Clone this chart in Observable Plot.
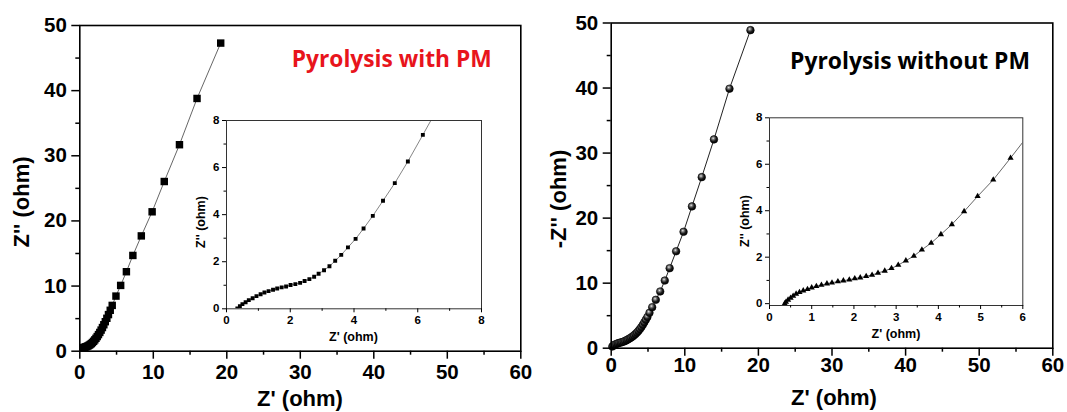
<!DOCTYPE html>
<html><head><meta charset="utf-8">
<script src="https://cdn.jsdelivr.net/npm/d3@7"></script>
<script src="https://cdn.jsdelivr.net/npm/@observablehq/plot@0.6"></script>
<style>
html,body{margin:0;padding:0;background:#fff;}
#wrap{position:relative;width:1067px;height:412px;overflow:hidden;background:#fff;font-family:"Liberation Sans",Arial,sans-serif;}
#wrap > div.layer{position:absolute;left:0;top:0;}
.t{position:absolute;font-weight:bold;white-space:nowrap;transform:translate(-50%,-50%);line-height:1;color:#000;}
.ty{transform:translate(-50%,-50%) rotate(-90deg);}
</style></head><body><div id="wrap"></div>
<script>
// ---------- data ----------
// Left main: "Pyrolysis with PM"
const withPM_Zre = [0.5,0.65,0.8,0.95,1.1,1.25,1.4,1.56,1.72,1.88,2.04,2.2,2.37,2.54,2.72,2.9,3.08,3.27,3.47,3.68,3.9,4.14,4.41,4.92,5.56,6.34,7.22,8.37,9.84,11.49,13.56,15.95,19.17];
const withPM_Zim = [0.55,0.6,0.66,0.72,0.8,0.9,1.02,1.16,1.33,1.52,1.74,1.98,2.25,2.55,2.88,3.24,3.63,4.06,4.53,5.05,5.62,6.28,7.03,8.46,10.1,12.2,14.7,17.7,21.4,26.05,31.7,38.8,47.3];
// Left inset
const withPMInset_Zre = [0.34,0.42,0.50,0.60,0.70,0.82,0.94,1.07,1.19,1.32,1.46,1.59,1.73,1.87,2.01,2.16,2.31,2.45,2.60,2.75,2.89,3.06,3.23,3.41,3.60,3.81,4.05,4.30,4.59,4.91,5.28,5.69,6.16,6.68];
const withPMInset_Zim = [0.02,0.11,0.20,0.28,0.37,0.45,0.54,0.62,0.69,0.75,0.81,0.86,0.91,0.95,1.01,1.05,1.10,1.18,1.26,1.36,1.49,1.64,1.81,2.04,2.29,2.61,2.97,3.41,3.95,4.59,5.34,6.26,7.39,8.65];
// Right main: "Pyrolysis without PM"
const noPM_Zre = [0.15,0.3,0.5,0.7,0.9,1.1,1.3,1.5,1.7,1.9,2.1,2.3,2.5,2.7,2.9,3.1,3.3,3.5,3.7,3.9,4.1,4.3,4.5,4.7,4.92,5.2,5.57,6.06,6.66,7.28,7.94,8.82,9.83,10.97,12.3,13.96,16.07,18.92];
const noPM_Zim = [0.25,0.4,0.55,0.65,0.74,0.82,0.88,0.94,1.02,1.12,1.24,1.36,1.5,1.64,1.8,1.98,2.18,2.4,2.66,2.94,3.25,3.6,3.98,4.38,4.8,5.44,6.3,7.44,8.72,10.4,12.3,14.9,17.9,21.8,26.3,32.1,39.9,48.9];
// Right inset
const noPMInset_Zre = [0.36,0.39,0.44,0.50,0.56,0.63,0.71,0.80,0.90,1.00,1.11,1.23,1.36,1.48,1.62,1.75,1.89,2.02,2.15,2.29,2.43,2.57,2.73,2.89,3.05,3.23,3.42,3.61,3.83,4.06,4.32,4.61,4.93,5.30,5.71,6.15];
const noPMInset_Zim = [0.0,0.07,0.16,0.24,0.33,0.42,0.49,0.56,0.62,0.69,0.75,0.80,0.86,0.90,0.95,0.99,1.03,1.08,1.12,1.18,1.23,1.32,1.41,1.52,1.66,1.85,2.05,2.32,2.61,2.98,3.41,3.97,4.62,5.33,6.27,7.3];

// ticks / labels
const mainXTicks = [0,10,20,30,40,50,60];
const mainXMinor = [5,15,25,35,45,55];
const mainYTicks = [0,10,20,30,40,50];
const mainYMinor = [5,15,25,35,45];
const inset1XTicks = [0,2,4,6,8];
const inset1XMinor = [1,3,5,7];
const insetYTicks = [0,2,4,6,8];
const insetYMinor = [1,3,5,7];
const inset2XTicks = [0,1,2,3,4,5,6];
const inset2XMinor = [0.5,1.5,2.5,3.5,4.5,5.5];

const titles = {left:"Pyrolysis with PM", right:"Pyrolysis without PM"};
const xTitle = "Z' (ohm)";
const yTitleLeft = "Z'' (ohm)";
const yTitleRight = "-Z'' (ohm)";
const insetYTitle = "Z'' (ohm)";

const rows = (xs, ys) => xs.map((x, i) => ({x, y: ys[i]}));

// ---------- layout ----------
const W = 1067, H = 412;
const wrap = document.getElementById("wrap");

function panel(frame, o) {
  const svg = Plot.plot({
    width: W, height: H,
    marginLeft: frame.x0, marginRight: W - frame.x1, marginTop: frame.y0, marginBottom: H - frame.y1,
    x: {domain: o.xDomain},
    y: {domain: o.yDomain},
    style: {background: "transparent", fontFamily: "'Liberation Sans', Arial, sans-serif", fontSize: o.font + "px", fontWeight: "bold", color: "#000", overflow: "visible"},
    marks: [
      ...o.marks,
      Plot.frame({stroke: o.frameStroke, strokeWidth: o.frameWidth}),
      Plot.axisX({ticks: o.xMajor, tickSize: o.tick, tickPadding: o.xpad ?? o.pad, strokeWidth: o.tickWidth, label: null, tickFormat: d => String(d)}),
      Plot.axisX({ticks: o.xMinor, tickSize: o.minor, strokeWidth: o.tickWidth, label: null, tickFormat: () => ""}),
      Plot.axisY({ticks: o.yMajor, tickSize: o.tick, tickPadding: o.pad, strokeWidth: o.tickWidth, label: null, tickFormat: d => String(d)}),
      Plot.axisY({ticks: o.yMinor, tickSize: o.minor, strokeWidth: o.tickWidth, label: null, tickFormat: () => ""})
    ]
  });
  const layer = document.createElement("div");
  layer.className = "layer";
  layer.appendChild(svg);
  wrap.appendChild(layer);
  return svg;
}

// Left main
panel({x0: 79.3, x1: 520.3, y0: 25, y1: 350.7}, {
  xDomain: [0, 60], yDomain: [0, 50],
  xMajor: mainXTicks, xMinor: mainXMinor, yMajor: mainYTicks, yMinor: mainYMinor,
  font: 20.5, tick: 8, minor: 4, pad: 5, tickWidth: 1.5, frameStroke: "#000", frameWidth: 1.6,
  marks: [
    Plot.line(rows(withPM_Zre, withPM_Zim), {x: "x", y: "y", stroke: "#555", strokeWidth: 0.9}),
    Plot.dot(rows(withPM_Zre, withPM_Zim), {x: "x", y: "y", symbol: "square", r: 4.2, fill: "#000", stroke: "none"})
  ]
});

// Right main
const rightSvg = panel({x0: 610.7, x1: 1052.3, y0: 22.5, y1: 347.7}, {
  xDomain: [0, 60], yDomain: [0, 50],
  xMajor: mainXTicks, xMinor: mainXMinor, yMajor: mainYTicks, yMinor: mainYMinor,
  font: 20.5, tick: 8, minor: 4, pad: 5, xpad: 1, tickWidth: 1.5, frameStroke: "#000", frameWidth: 1.6,
  marks: [
    Plot.line(rows(noPM_Zre, noPM_Zim), {x: "x", y: "y", stroke: "#222", strokeWidth: 1}),
    Plot.dot(rows(noPM_Zre, noPM_Zim), {x: "x", y: "y", r: 3.8, fill: "url(#ball)", stroke: "#000", strokeWidth: 0.6})
  ]
});
d3.select(rightSvg).insert("defs", ":first-child").html(
  '<radialGradient id="ball" cx="0.4" cy="0.35" r="0.65"><stop offset="0" stop-color="#f2f2f2"/><stop offset="0.22" stop-color="#8a8a8a"/><stop offset="0.6" stop-color="#1e1e1e"/><stop offset="1" stop-color="#000"/></radialGradient>'
);

// Left inset
panel({x0: 226, x1: 481, y0: 120, y1: 308.3}, {
  xDomain: [0, 8], yDomain: [0, 8],
  xMajor: inset1XTicks, xMinor: inset1XMinor, yMajor: insetYTicks, yMinor: insetYMinor,
  font: 11.5, tick: 4, minor: 2.5, pad: 3, tickWidth: 1, frameStroke: "#333", frameWidth: 1,
  marks: [
    Plot.line(rows(withPMInset_Zre, withPMInset_Zim), {x: "x", y: "y", stroke: "#777", strokeWidth: 0.9, clip: true}),
    Plot.dot(rows(withPMInset_Zre, withPMInset_Zim), {x: "x", y: "y", symbol: "square", r: 2.2, fill: "#000", stroke: "none", clip: true})
  ]
});

// Right inset
panel({x0: 769, x1: 1022.3, y0: 117.3, y1: 305}, {
  xDomain: [0, 6], yDomain: [-0.08, 8],
  xMajor: inset2XTicks, xMinor: inset2XMinor, yMajor: insetYTicks, yMinor: insetYMinor,
  font: 11.5, tick: 4, minor: 2.5, pad: 3, tickWidth: 1, frameStroke: "#333", frameWidth: 1,
  marks: [
    Plot.line(rows(noPMInset_Zre, noPMInset_Zim), {x: "x", y: "y", stroke: "#555", strokeWidth: 0.9, clip: true}),
    Plot.dot(rows(noPMInset_Zre, noPMInset_Zim), {x: "x", y: "y", symbol: "triangle", r: 2.3, fill: "#000", stroke: "none", clip: true})
  ]
});

// ---------- texts ----------
function addText(str, cx, cy, size, opts = {}) {
  const el = document.createElement("div");
  el.className = "t" + (opts.rot ? " ty" : "");
  el.textContent = str;
  el.style.left = cx + "px";
  el.style.top = cy + "px";
  el.style.fontSize = size + "px";
  if (opts.family) el.style.fontFamily = opts.family;
  if (opts.color) el.style.color = opts.color;
  wrap.appendChild(el);
  if (opts.fitWidth) {
    const w = el.getBoundingClientRect().width;
    el.style.fontSize = (size * opts.fitWidth / w) + "px";
  }
  return el;
}
addText(xTitle, 300, 399, 22);
addText(yTitleLeft, 22, 202, 22, {rot: true});
addText(xTitle, 834, 398, 22);
addText(yTitleRight, 559, 199, 22, {rot: true});
addText(xTitle, 353.5, 337, 12.5);
addText(insetYTitle, 201, 222, 12.5, {rot: true});
addText(xTitle, 896, 334, 12.5);
addText(insetYTitle, 745, 221, 12.5, {rot: true});
addText(titles.left, 391.7, 59, 22, {family: "'Open Sans', Lato, sans-serif", color: "#e8141c", fitWidth: 200});
addText(titles.right, 910, 61, 22, {family: "'Open Sans', Lato, sans-serif", fitWidth: 240});
</script>
</body></html>
